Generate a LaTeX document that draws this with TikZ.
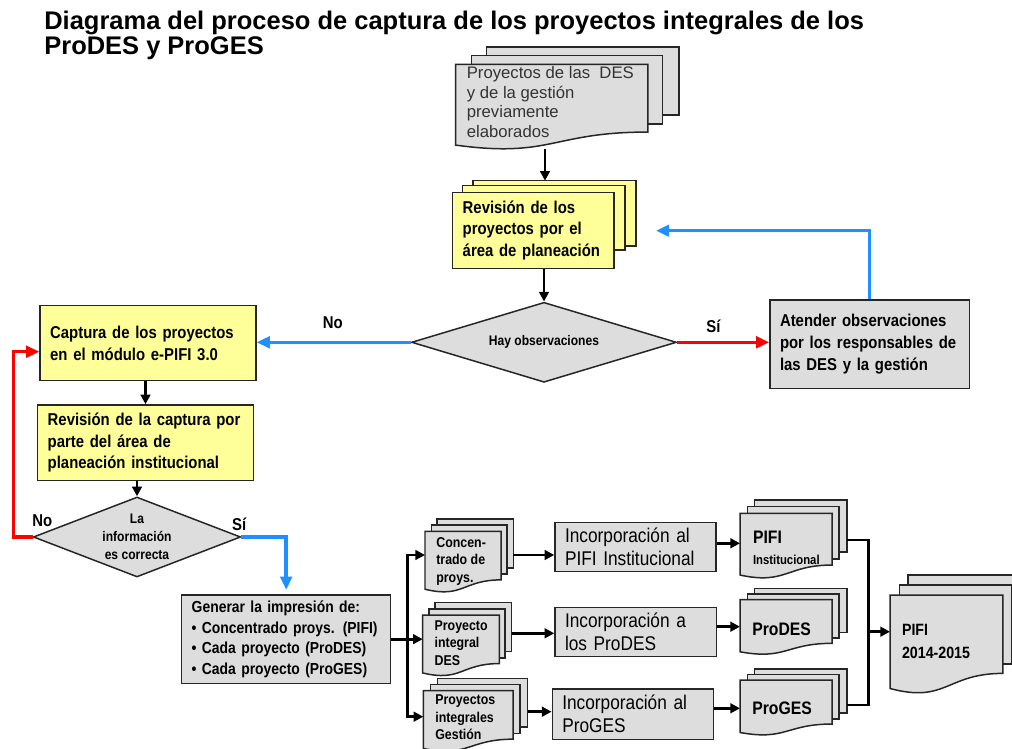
\documentclass[tikz,border=0pt]{standalone}
\usepackage{fontspec}
\setmainfont{Liberation Sans}
\newfontfamily\cond{Liberation Sans}[FakeStretch=0.87]
\usetikzlibrary{arrows.meta,shapes.geometric}
\definecolor{boxyellow}{RGB}{255,255,153}
\definecolor{boxgray}{RGB}{221,221,221}
\definecolor{flowblue}{RGB}{30,144,255}
\definecolor{flowred}{RGB}{255,0,0}
\newcommand\fsz[2]{\fontsize{#1}{#2}\selectfont}
% multidocument: x0 y0 w h fill
\newcommand\mdoc[5]{%
  \begin{scope}[shift={(#1,#2)}]
    \path[shapeline, fill=#5] ({0.1376*#3},0) rectangle ({#3},{0.668*#4});
    \path[shapeline, fill=#5] ({0.0709*#3},{0.084*#4}) rectangle ({0.926*#3},{0.755*#4});
    \path[shapeline, fill=#5] (0,{0.170*#4}) -- ({0.861*#3},{0.170*#4}) -- ({0.861*#3},{0.834*#4})
      .. controls ({0.4305*#3},{0.834*#4}) and ({0.4305*#3},{1.09*#4}) .. (0,{0.962*#4}) -- cycle;
  \end{scope}}
\begin{document}
\begin{tikzpicture}[x=0.02cm,y=-0.02cm, line join=miter,
  shapeline/.style={draw=black!85, line width=0.85pt},
  box/.style={shapeline, rectangle, inner xsep=0.2cm, inner ysep=0pt, align=left, font=\cond\bfseries\fsz{9.75}{12.3}},
  ybox/.style={box, fill=boxyellow},
  gbox/.style={box, fill=boxgray},
  incbox/.style={gbox, font=\cond\fsz{11.3}{13.2}},
  dia/.style={diamond, shapeline, fill=boxgray, inner sep=0pt, align=center, font=\cond\bfseries\fsz{7.9}{10.2}},
  lbl/.style={inner sep=0pt, font=\cond\bfseries\fsz{9.75}{12}},
  stxt/.style={inner sep=0pt, anchor=west, align=left, font=\cond\bfseries\fsz{8.1}{10}},
  blk/.style={draw=black, line width=1.6pt, -{Triangle[length=5.5pt,width=5.5pt]}},
  blkline/.style={draw=black, line width=1.6pt},
  bluearr/.style={draw=flowblue, line width=2pt, -{Triangle[length=7.5pt,width=6.5pt]}},
  redarr/.style={draw=flowred, line width=2pt, -{Triangle[length=7.5pt,width=6.5pt]}},
  titlefont/.style={anchor=base west, inner sep=0pt, font=\bfseries\fsz{14.5}{16}},
]
\useasboundingbox (0,0) rectangle (1012,749);
\fill[white] (0,0) rectangle (1012,749);

% title
\node[titlefont] (title1) at (44,30) {Diagrama del proceso de captura de los proyectos integrales de los};
\node[titlefont] (title2) at (44,55) {ProDES y ProGES};

% top document stack
\mdoc{455.7}{47}{223.3}{102}{boxgray}
\node[inner sep=0pt, anchor=west, align=left, text=black!80, font=\fsz{9.5}{11.3}] (td) at (466.5,102)
  {Proyectos de las\ \ DES\\y de la gestión\\previamente\\elaborados};
\coordinate (tdb) at (545,149);

% yellow stack
\path[shapeline, fill=boxyellow] (473,180.7) rectangle (636,246);
\path[shapeline, fill=boxyellow] (462.7,185.7) rectangle (625,250);
\node[ybox, text width=2.826cm, minimum height=1.512cm] (rev) at (533.35,230.5)
  {Revisión de los\\proyectos por el\\área de planeación};
\coordinate (revtop) at (545,180.7);
\coordinate (ret) at (656,230.7);

% decision 1
\node[dia, minimum width=5.3cm, minimum height=1.6cm, aspect=3.3] (hay) at (544,342.3) {Hay observaciones};

% left boxes
\node[ybox, text width=3.914cm, minimum height=1.5cm] (cap) at (148,343.2)
  {Captura de los proyectos\\en el módulo e-PIFI 3.0};
\node[ybox, text width=3.912cm, minimum height=1.514cm] (revc) at (145.5,442.85)
  {Revisión de la captura por\\parte del área de\\planeación institucional};

% right box
\node[gbox, text width=3.586cm, minimum height=1.766cm] (aten) at (869.65,344.15)
  {Atender observaciones\\por los responsables de\\las DES y la gestión};

% decision 2
\node[dia, minimum width=4.148cm, minimum height=1.6cm, aspect=2.6] (info) at (137,537) {La\\información\\es correcta};

% generar
\node[gbox, text width=3.78cm, minimum height=1.766cm, font=\cond\bfseries\fsz{9.1}{11.7}] (gen) at (286.2,639.15)
  {Generar la impresión de:\\\textbullet{} Concentrado proys. (PIFI)\\\textbullet{} Cada proyecto (ProDES)\\\textbullet{} Cada proyecto (ProGES)};

% labels
\node[lbl] (no1) at (332.7,323) {No};
\node[lbl] (si1) at (713.5,326.3) {Sí};
\node[lbl] (no2) at (42.2,520.5) {No};
\node[lbl] (si2) at (239.2,524.5) {Sí};

% middle stacks
\mdoc{425}{519}{88.3}{73}{boxgray}
\node[stxt] (s1) at (436,561.3) {Concen-\\trado de\\proys.};
\mdoc{422.7}{602.7}{89}{73}{boxgray}
\node[stxt] (s2) at (434.3,642.8) {Proyecto\\integral\\DES};
\mdoc{423.3}{678.3}{104.4}{73}{boxgray}
\node[stxt] (s3) at (435,717.6) {Proyectos\\integrales\\Gestión};

% incorporation boxes
\node[incbox, text width=2.82cm, minimum height=0.988cm] (inc1) at (635.5,547) {Incorporación al\\PIFI Institucional};
\node[incbox, text width=2.834cm, minimum height=0.988cm] (inc2) at (635.85,632) {Incorporación a\\los ProDES};
\node[incbox, text width=2.82cm, minimum height=1.006cm] (inc3) at (632.8,714.15) {Incorporación al\\ProGES};

% output stacks
\mdoc{740}{500}{107}{78}{boxgray}
\node[stxt, font=\cond\bfseries] (sA) at (752.7,548) {\fsz{10.3}{12}PIFI\\\fsz{7.4}{13.4}Institucional};
\mdoc{740}{588.3}{107}{66}{boxgray}
\node[stxt, font=\cond\bfseries\fsz{10.3}{12}] (sB) at (752,629.5) {ProDES};
\mdoc{740}{669}{107}{66}{boxgray}
\node[stxt, font=\cond\bfseries\fsz{10.3}{12}] (sC) at (752,708.5) {ProGES};
\mdoc{890}{575}{131}{118}{boxgray}
\node[stxt, font=\cond\bfseries\fsz{9.3}{13}] (sF) at (901.7,641.5) {PIFI\\2014-2015};

% coordinates on stacks
\coordinate (jn) at (407.3,639.15);
\coordinate (s1in) at (425,555);
\coordinate (s2in) at (422.7,639.15);
\coordinate (s3in) at (423.3,716.7);
\coordinate (s1out) at (513.3,555);
\coordinate (s2out) at (511.7,633.3);
\coordinate (s3out) at (527.7,711.7);
\coordinate (sAin) at (740,543.3);
\coordinate (sBin) at (740,626.7);
\coordinate (sCin) at (740,708.3);
\coordinate (sAout) at (847,540);
\coordinate (sCout) at (847,705);
\coordinate (mj) at (868.3,631.7);
\coordinate (sFin) at (890,631.7);
\coordinate (rc) at (13.3,351.7);

% connectors
\draw[blk] (tdb) -- (revtop);
\draw[blk] (hay.north |- rev.south) -- (hay.north);
\draw[bluearr] (hay.west) -- (hay.west -| cap.east);
\draw[redarr] (hay.east) -- (hay.east -| aten.west);
\draw[bluearr] (aten.north) |- (ret);
\draw[blk] (revc.north |- cap.south) -- (revc.north);
\draw[blk] (info.north |- revc.south) -- (info.north);
\draw[redarr] (info.west) -| (rc) -- (rc -| cap.west);
\draw[bluearr] (info.east) -| ([yshift=2.5pt]gen.north);
\draw[blkline] (gen.east) -- (jn);
\draw[blk] (jn) |- (s1in);
\draw[blk] (jn) -- (s2in);
\draw[blk] (jn) |- (s3in);
\draw[blk] (s1out) -- (s1out -| inc1.west);
\draw[blk] (s2out) -- (s2out -| inc2.west);
\draw[blk] (s3out) -- (s3out -| inc3.west);
\draw[blk] (inc1.east |- sAin) -- (sAin);
\draw[blk] (inc2.east |- sBin) -- (sBin);
\draw[blk] (inc3.east |- sCin) -- (sCin);
\draw[blkline] (sAout) -| (mj);
\draw[blkline] (sCout) -| (mj);
\draw[blk] (mj) -- (sFin);
\end{tikzpicture}
\end{document}
